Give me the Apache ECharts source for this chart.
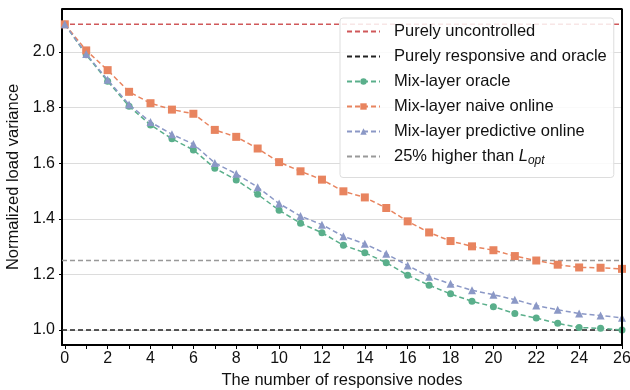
<!DOCTYPE html>
<html><head><meta charset="utf-8">
<script src="https://cdn.jsdelivr.net/npm/echarts@6/dist/echarts.min.js"></script>
<style>html,body{margin:0;padding:0;background:#fff}#c{width:630px;height:390px}</style>
</head><body><div id="c"></div>
<script>
const nodes = [0,1,2,3,4,5,6,7,8,9,10,11,12,13,14,15,16,17,18,19,20,21,22,23,24,25,26];
const oracle = [2.1,1.99,1.895,1.805,1.738,1.688,1.648,1.582,1.54,1.488,1.431,1.384,1.35,1.305,1.278,1.242,1.197,1.161,1.13,1.103,1.084,1.059,1.043,1.024,1.009,1.006,1.0];
const naive = [2.1,2.006,1.935,1.857,1.816,1.793,1.778,1.72,1.695,1.653,1.604,1.571,1.541,1.499,1.477,1.439,1.391,1.351,1.32,1.301,1.287,1.266,1.25,1.235,1.225,1.224,1.22];
const predictive = [2.1,1.993,1.9,1.811,1.748,1.704,1.669,1.601,1.562,1.514,1.455,1.41,1.379,1.337,1.31,1.274,1.232,1.192,1.166,1.143,1.127,1.109,1.088,1.073,1.059,1.052,1.044];
const uncontrolled = 2.1;
const responsiveOracle = 1.0;
const threshold = 1.25;
const xTicks = [0,2,4,6,8,10,12,14,16,18,20,22,24,26];
const yTicks = [1.0,1.2,1.4,1.6,1.8,2.0];
const xMin = -0.13, xMax = 26, yMin = 0.946, yMax = 2.155;

const FONT = 'Liberation Sans';
const pair = arr => nodes.map((n,i)=>[n,arr[i]]);
const hline = v => [[xMin,v],[xMax,v]];

const chart = echarts.init(document.getElementById('c'), null, {renderer:'canvas'});
const dash = [5,3];
function refLine(name, v, color){
  return {name, type:'line', data:hline(v), symbol:'circle', symbolSize:0, showSymbol:false, silent:true,
    lineStyle:{color, width:1.5, type:dash}, itemStyle:{color:'rgba(0,0,0,0)', borderWidth:0}, z:1};
}
function dataLine(name, arr, color, symbol, size){
  return {name, type:'line', data:pair(arr), symbol, symbolSize:size, showSymbol:true,
    lineStyle:{color, width:1.5, type:dash}, itemStyle:{color}, z:3};
}
chart.setOption({
  animation:false,
  textStyle:{fontFamily:FONT},
  grid:{left:62, right:8, top:9, bottom:45, show:false, outerBoundsMode:'none', containLabel:false},
  xAxis:{type:'value', min:xMin, max:xMax,
    name:'The number of responsive nodes', nameLocation:'middle', nameGap:27,
    nameTextStyle:{fontSize:16.5, color:'#111', fontFamily:FONT},
    axisLine:{show:true, onZero:false, lineStyle:{color:'#000', width:2}},
    axisTick:{show:true, length:4, lineStyle:{color:'#000', width:1}, customValues:nodes},
    axisLabel:{fontSize:16, color:'#111', margin:6, customValues:xTicks, fontFamily:FONT},
    splitLine:{show:false}},
  yAxis:{type:'value', min:yMin, max:yMax,
    name:'Normalized load variance', nameLocation:'middle', nameGap:36,
    nameTextStyle:{fontSize:16.5, color:'#111', fontFamily:FONT},
    axisLine:{show:true, onZero:false, lineStyle:{color:'#000', width:2}},
    axisTick:{show:true, length:3, lineStyle:{color:'#000', width:1}, customValues:yTicks},
    axisLabel:{fontSize:16, color:'#111', margin:7, customValues:yTicks, formatter:v=>v.toFixed(1), fontFamily:FONT},
    splitLine:{show:true, lineStyle:{color:'#dcdcdc', width:1}}},
  legend:{left:340, top:18, orient:'vertical', itemWidth:33, itemHeight:8, itemGap:6,
    padding:[4,7,11,6], backgroundColor:'rgba(255,255,255,0.85)', borderColor:'#dddddd', borderWidth:1, borderRadius:3,
    textStyle:{fontSize:16.5, lineHeight:19, color:'#111', fontFamily:FONT, padding:[0,0,0,9],
      rich:{i:{fontStyle:'italic', fontSize:16.5, fontFamily:FONT, color:'#111'},
            s:{fontStyle:'italic', fontSize:12, fontFamily:FONT, color:'#111', padding:[8,0,0,0]}}},
    formatter: n => n.indexOf('L_opt')>=0 ? '25% higher than {i|L}{s|opt}' : n,
    data:['Purely uncontrolled','Purely responsive and oracle','Mix-layer oracle','Mix-layer naive online','Mix-layer predictive online','25% higher than L_opt']},
  series:[
    refLine('Purely uncontrolled', uncontrolled, '#d0585a'),
    refLine('Purely responsive and oracle', responsiveOracle, '#222222'),
    dataLine('Mix-layer oracle', oracle, '#5aaf8b', 'circle', 7),
    dataLine('Mix-layer naive online', naive, '#e8845f', 'rect', 8),
    dataLine('Mix-layer predictive online', predictive, '#8b98c6', 'triangle', 8),
    refLine('25% higher than L_opt', threshold, '#999999'),
    {type:'line', data:[[xMin,yMax],[xMax,yMax],[xMax,yMin]], symbol:'none', silent:true,
     lineStyle:{color:'#000', width:2}, z:5, legendHoverLink:false}
  ]
});
</script></body></html>
